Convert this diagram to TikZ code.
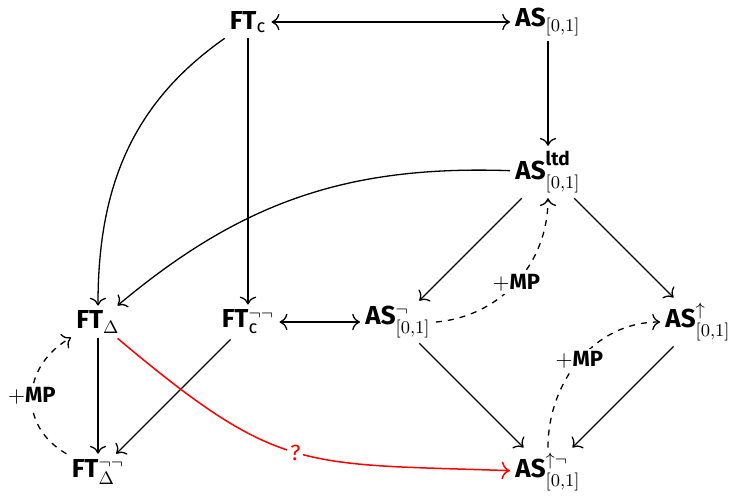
\documentclass[tikz,border=0pt]{standalone}
\usepackage{amsmath, amssymb}
\usepackage{fontspec}
\setmainfont{Fira Sans}
\usepackage{tikz}
\usetikzlibrary{positioning, arrows.meta}
\tikzset{
  obj/.style={inner sep=2.5pt, font=\fontsize{13}{15}\selectfont},
  arr/.style={-{To[scale=1.3]}, line width=0.65pt},
  biarr/.style={{To[scale=1.3]}-{To[scale=1.3]}, line width=0.65pt},
  mparr/.style={-{To[scale=1.3]}, dashed, line width=0.65pt},
  qarr/.style={-{To[scale=1.3]}, line width=0.75pt, color=red},
  lbl/.style={fill=white, inner sep=1.5pt, font=\fontsize{11}{13}\selectfont},
}

\begin{document}
\begin{tikzpicture}[node distance=75pt and 75pt, on grid]

  \useasboundingbox (-124pt,11pt) rectangle (246pt,-238pt);

  % top rows
  \node[obj] (ftc) at (0,0) {\textbf{FT}$_{\text{c}}$};
  \node[obj, right=150pt of ftc] (as) {\textbf{AS}$_{[0,1]}$};
  \node[obj, below=of as] (asltd)
    {\textbf{AS}$^{\raisebox{2.5pt}{\fontsize{9.5}{11}\selectfont\bfseries ltd}}_{[0,1]}$};

  % middle row
  \node[obj, below=150pt of ftc] (ftcnn) {\textbf{FT}$^{\neg\neg}_{\text{c}}$};
  \node[obj, left=of ftcnn] (ftd) {\textbf{FT}$_{\Delta}$};
  \node[obj, right=of ftcnn] (asn) {\textbf{AS}$^{\neg}_{[0,1]}$};
  \node[obj, right=150pt of asn] (asup) {\textbf{AS}$^{\uparrow}_{[0,1]}$};

  % bottom row
  \node[obj, below=of ftd] (ftdnn) {\textbf{FT}$^{\neg\neg}_{\Delta}$};
  \node[obj, below=150pt of asltd] (asupn) {\textbf{AS}$^{\uparrow\neg}_{[0,1]}$};

  \draw[biarr] (ftc) -- (as);
  \draw[arr] (as) -- (asltd);
  \draw[arr] (ftc) to[out=215, in=90] (ftd);
  \draw[arr] (ftc) -- (ftcnn);
  \draw[arr] (asltd) to[out=178, in=40] (ftd);
  \draw[arr] (asltd) -- (asn);
  \draw[arr] (asltd) -- (asup);
  \draw[mparr] (asn.east) to[out=5, in=270] node[lbl]{$+$\textbf{MP}} (asltd.south);

  \draw[biarr] (ftcnn) -- (asn);
  \draw[arr] (ftd) -- (ftdnn);
  \draw[arr] (ftcnn) -- (ftdnn);
  \draw[mparr] (ftdnn) to[out=150, in=210, looseness=1.25] node[lbl]{$+$\textbf{MP}} (ftd);

  \draw[arr] (asn) -- (asupn);
  \draw[arr] (asup) -- (asupn);
  \draw[mparr] (asupn.north) to[out=90, in=180] node[lbl]{$+$\textbf{MP}} (asup.west);

  \draw[qarr] (ftd) to[out=-40, in=178, looseness=1.3] node[lbl]{?} (asupn);

\end{tikzpicture}
\end{document}
